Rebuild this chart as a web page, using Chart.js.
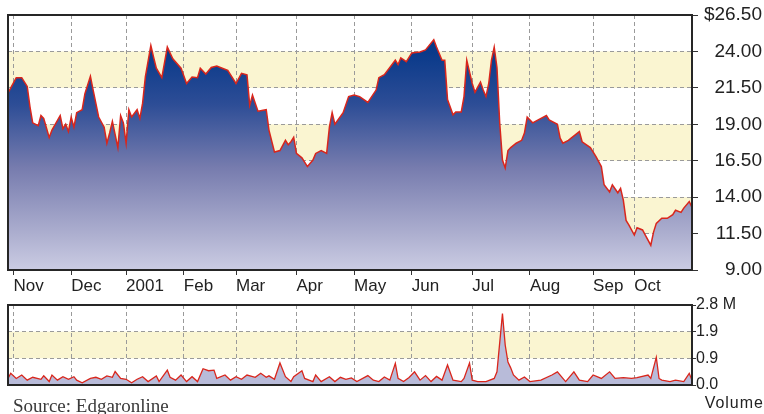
<!DOCTYPE html>
<html><head><meta charset="utf-8">
<script src="https://cdn.jsdelivr.net/npm/chart.js@4/dist/chart.umd.min.js"></script>
<style>
html,body{margin:0;padding:0;background:#fff;width:764px;height:414px;overflow:hidden;position:relative}
canvas{position:absolute;left:0}
#price{top:0}
#vol{top:290px}
.src{position:absolute;left:13px;top:396px;font:19px/19px "Liberation Serif",serif;color:#3a3a3a;white-space:nowrap}
.vlab{position:absolute;right:0;top:395px;font:16px/16px "Liberation Sans",Arial,sans-serif;letter-spacing:1px;color:#222;white-space:nowrap}
</style></head><body>
<canvas id="price" width="764" height="298"></canvas>
<canvas id="vol" width="764" height="124"></canvas>
<div class="src">Source: Edgaronline</div>
<div class="vlab">Volume</div>
<script>
// ---- data (x = trading-day index from start of window) ----
const lastDay = 249;
const monthDays   = [2, 23, 43, 64, 83, 105, 126, 147, 169, 190, 213, 228];
const monthLabels = ['Nov','Dec','2001','Feb','Mar','Apr','May','Jun','Jul','Aug','Sep','Oct'];

const priceTicks      = [9, 11.5, 14, 16.5, 19, 21.5, 24, 26.5];
const priceTickLabels = ['9.00','11.50','14.00','16.50','19.00','21.50','24.00','$26.50'];

const volTicks      = [0, 0.9333, 1.8667, 2.8];
const volTickLabels = ['0.0','0.9','1.9','2.8 M'];

const priceDays = [0,1,3,5,7,8,9,11,12,13,15,16,19,20,21,22,23,24,25,27,28,30,31,33,35,36,37,38,40,41,42,43,44,45,47,48,49,50,52,53,54,56,58,60,63,65,67,69,70,72,74,76,78,80,83,85,87,88,89,91,94,95,97,99,101,102,103,104,105,107,109,111,112,114,116,117,118,119,122,124,126,128,131,134,135,137,139,141,142,143,145,147,150,152,155,156,158,159,160,162,163,165,166,167,169,170,172,173,174,175,176,177,178,179,180,181,182,183,185,187,188,189,191,193,196,197,200,201,202,204,205,208,209,212,214,216,217,219,220,222,223,224,225,226,228,229,231,232,234,235,236,238,240,242,243,245,246,248,249];
const prices = [21.15,21.5,22.2,22.2,21.6,20.2,19.1,18.9,19.6,19.4,18.1,18.6,19.6,18.7,19.0,18.5,19.5,18.8,19.8,20.0,21.1,22.3,21.35,19.5,18.8,17.7,18.4,19.2,17.4,19.6,19.1,17.7,20.0,19.5,20.0,19.4,20.45,22.25,24.4,23.6,22.85,22.2,24.3,23.5,22.85,21.8,22.25,22.2,22.85,22.45,22.9,23.0,22.85,22.7,21.8,22.5,22.4,20.3,21.0,19.9,20.0,18.6,17.1,17.2,17.9,17.6,17.8,18.1,17.0,16.7,16.1,16.55,17.0,17.2,17.0,18.8,19.8,19.0,19.8,20.9,21.0,20.9,20.5,21.35,22.2,22.4,22.9,23.4,23.1,23.55,23.3,23.9,23.96,24.1,24.8,24.3,23.4,23.4,20.7,19.65,19.85,19.85,20.9,23.4,21.8,21.2,21.9,21.35,20.9,21.8,23.4,24.3,22.9,19.1,16.55,16.0,17.2,17.4,17.7,17.9,18.4,19.5,19.1,19.3,19.6,19.3,19.0,18.05,17.7,17.9,18.05,18.5,17.8,17.4,16.8,16.1,14.85,14.35,14.85,14.3,14.6,13.8,12.4,12.1,11.4,11.9,11.75,11.4,10.7,11.6,12.2,12.55,12.55,12.8,13.1,12.95,13.25,13.7,13.3];

const volDays = [0,1,3,5,7,9,12,13,15,16,18,20,22,24,25,27,30,32,34,36,38,39,41,43,45,47,49,51,54,55,58,59,61,63,65,67,69,71,73,75,76,79,81,83,85,87,90,92,94,95,97,99,101,103,104,107,108,111,112,114,117,119,121,123,125,127,131,133,135,137,139,141,142,144,146,148,150,152,154,156,158,160,162,165,166,168,169,171,174,177,178,180,181,182,183,184,186,188,190,194,198,200,202,203,206,208,211,213,216,219,221,224,227,229,233,234,236,237,238,241,243,246,248,249];
const volumes = [0.23,0.41,0.23,0.35,0.17,0.27,0.2,0.32,0.12,0.35,0.17,0.29,0.2,0.29,0.17,0.08,0.23,0.27,0.2,0.32,0.27,0.47,0.23,0.2,0.08,0.2,0.29,0.12,0.32,0.12,0.52,0.27,0.17,0.35,0.12,0.29,0.12,0.57,0.5,0.52,0.23,0.35,0.17,0.29,0.2,0.35,0.27,0.41,0.27,0.32,0.2,0.77,0.29,0.12,0.29,0.5,0.23,0.12,0.35,0.12,0.29,0.12,0.27,0.2,0.25,0.12,0.33,0.17,0.12,0.28,0.17,0.76,0.23,0.12,0.26,0.46,0.17,0.33,0.12,0.3,0.17,0.7,0.17,0.12,0.23,0.77,0.17,0.12,0.12,0.23,0.46,2.5,1.4,0.8,0.6,0.35,0.17,0.28,0.12,0.17,0.35,0.46,0.23,0.12,0.46,0.17,0.12,0.35,0.23,0.46,0.23,0.26,0.23,0.26,0.35,0.23,0.97,0.23,0.17,0.12,0.17,0.12,0.41,0.17];

// ---- styling helpers ----
const FONT = '"Liberation Sans", Arial, sans-serif';
const GRID = '#9a9a9a';
const BAND_YELLOW = '#faf5d1';

const bandsPlugin = {
  id: 'bands',
  beforeDraw(chart) {
    const {ctx, chartArea: a} = chart;
    const y = chart.scales.y;
    const vals = y.ticks.map(t => t.value);
    ctx.save();
    ctx.fillStyle = '#ffffff';
    ctx.fillRect(a.left, a.top, a.right - a.left, a.bottom - a.top);
    for (let i = 0; i < vals.length - 1; i++) {
      if (i % 2 === 1) {
        const y1 = y.getPixelForValue(vals[i + 1]);
        const y2 = y.getPixelForValue(vals[i]);
        ctx.fillStyle = BAND_YELLOW;
        ctx.fillRect(a.left, y1, a.right - a.left, y2 - y1);
      }
    }
    ctx.restore();
  },
  afterDraw(chart) {
    const {ctx, chartArea: a} = chart;
    ctx.save();
    ctx.strokeStyle = '#262626';
    ctx.lineWidth = 2;
    ctx.strokeRect(a.left, a.top, a.right - a.left, a.bottom - a.top);
    ctx.restore();
  }
};

function xScale(showLabels, height) {
  return {
    type: 'linear', min: 0, max: lastDay,
    afterBuildTicks: s => { s.ticks = monthDays.map(v => ({value: v})); },
    afterFit: s => { s.height = height; },
    ticks: {
      display: showLabels, autoSkip: false, maxRotation: 0, minRotation: 0,
      align: 'start', padding: 1, color: '#222',
      font: {family: FONT, size: 17},
      callback: (v, i) => monthLabels[i]
    },
    grid: {color: GRID, lineWidth: 1, drawTicks: showLabels, tickLength: 5,
           tickColor: '#333', tickWidth: 1, tickBorderDash: []},
    border: {display: false, dash: [4, 3]}
  };
}

Chart.defaults.animation = false;

new Chart(document.getElementById('price'), {
  type: 'line',
  data: {
    datasets: [{
      data: priceDays.map((d, i) => ({x: d, y: prices[i]})),
      borderColor: '#d9261c', borderWidth: 1.5, pointRadius: 0, tension: 0,
      fill: 'start',
      backgroundColor: (c) => {
        const a = c.chart.chartArea;
        if (!a) return 'rgba(0,0,0,0)';
        const g = c.chart.ctx.createLinearGradient(0, a.top, 0, a.bottom);
        g.addColorStop(0, '#04317e');
        g.addColorStop(0.15, '#0a3a8a');
        g.addColorStop(0.35, '#2d4d96');
        g.addColorStop(0.6, '#777cae');
        g.addColorStop(0.85, '#abadce');
        g.addColorStop(1, '#cbcce3');
        return g;
      }
    }]
  },
  options: {
    responsive: false, animation: false,
    layout: {padding: {left: 8, top: 15, right: 2, bottom: 0}},
    plugins: {legend: {display: false}, tooltip: {enabled: false}},
    scales: {
      x: xScale(true, 28),
      y: {
        type: 'linear', position: 'right', min: 9, max: 26.5,
        afterBuildTicks: s => { s.ticks = priceTicks.map(v => ({value: v})); },
        afterFit: s => { s.width = 70; },
        ticks: {crossAlign: 'far', color: '#222', font: {family: FONT, size: 19},
                callback: (v, i) => priceTickLabels[i]},
        grid: {color: GRID, lineWidth: 1, tickLength: 6, tickColor: '#333',
               tickWidth: 1, tickBorderDash: []},
        border: {display: false, dash: [4, 3]}
      }
    }
  },
  plugins: [bandsPlugin]
});

new Chart(document.getElementById('vol'), {
  type: 'line',
  data: {
    datasets: [{
      data: volDays.map((d, i) => ({x: d, y: volumes[i]})),
      borderColor: '#d9261c', borderWidth: 1.3, pointRadius: 0, tension: 0,
      fill: 'start', backgroundColor: '#b8bbd9'
    }]
  },
  options: {
    responsive: false, animation: false,
    layout: {padding: {left: 8, top: 15, right: 2, bottom: 0}},
    plugins: {legend: {display: false}, tooltip: {enabled: false}},
    scales: {
      x: xScale(false, 29),
      y: {
        type: 'linear', position: 'right', min: 0, max: 2.8,
        afterBuildTicks: s => { s.ticks = volTicks.map(v => ({value: v})); },
        afterFit: s => { s.width = 70; },
        ticks: {crossAlign: 'near', padding: 0, color: '#222', font: {family: FONT, size: 16},
                callback: (v, i) => volTickLabels[i]},
        grid: {color: GRID, lineWidth: 1, tickLength: 4, tickColor: '#333',
               tickWidth: 1, tickBorderDash: []},
        border: {display: false, dash: [4, 3]}
      }
    }
  },
  plugins: [bandsPlugin]
});
</script>
</body></html>
